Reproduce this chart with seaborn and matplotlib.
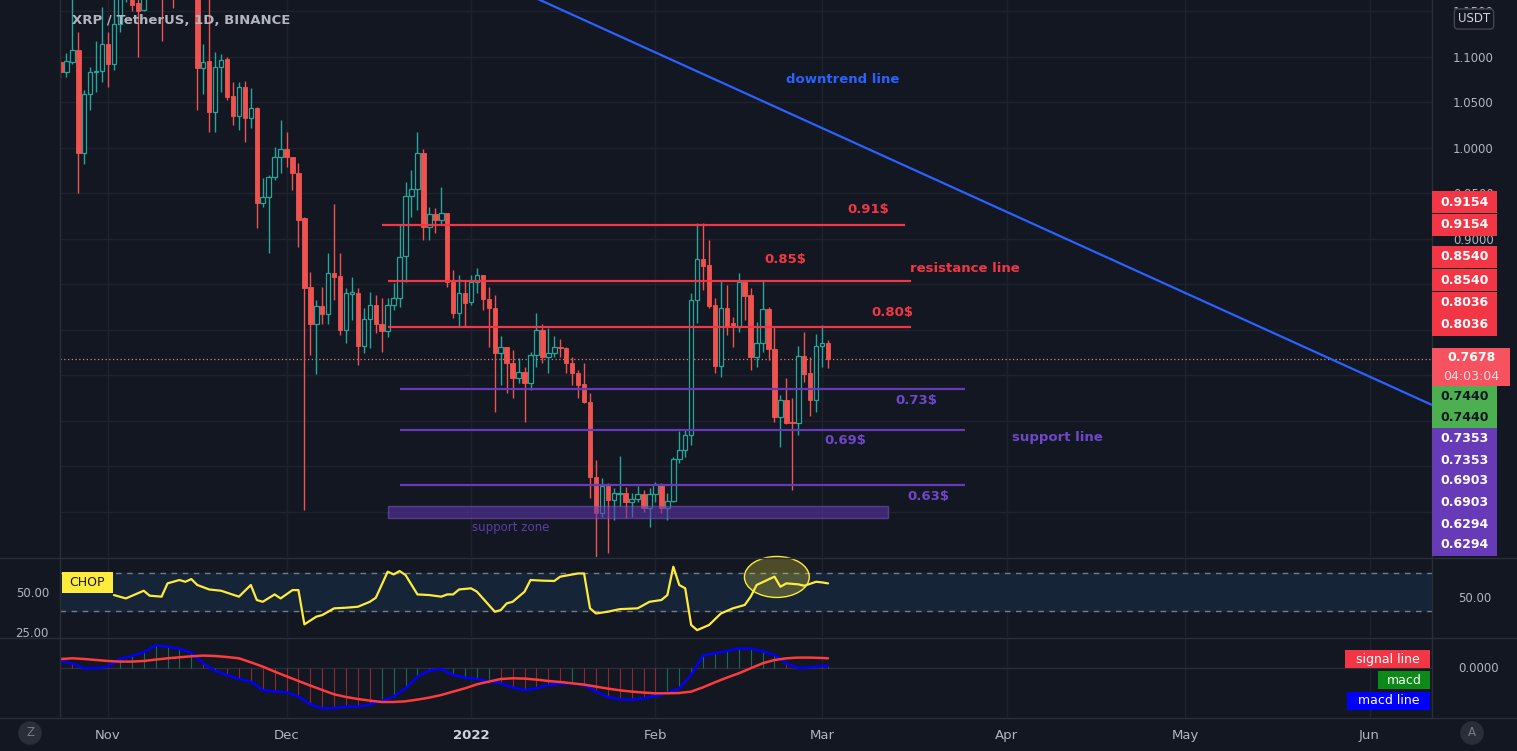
import matplotlib
matplotlib.use("Agg")
import numpy as np
import pandas as pd
import matplotlib.pyplot as plt
import matplotlib.dates as mdates
from matplotlib.patches import Rectangle, Ellipse
from matplotlib.lines import Line2D
import seaborn as sns

# ---------------- data ----------------
first_day = "2021-10-24"
opens = [1.094, 1.083, 1.095, 1.108, 0.995, 1.059, 1.083, 1.085, 1.114, 1.092,
         1.136, 1.174, 1.220, 1.159, 1.152, 1.195, 1.250, 1.270, 1.220, 1.200,
         1.180, 1.190, 1.210, 1.200, 1.088, 1.096, 1.040, 1.089, 1.098, 1.057,
         1.035, 1.067, 1.033, 1.044, 0.940, 0.946, 0.968, 0.990, 0.999, 0.990,
         0.973, 0.923, 0.847, 0.807, 0.826, 0.817, 0.863, 0.859, 0.800, 0.840,
         0.841, 0.782, 0.812, 0.827, 0.807, 0.799, 0.827, 0.835, 0.881, 0.947,
         0.955, 0.995, 0.913, 0.927, 0.921, 0.929, 0.853, 0.819, 0.841, 0.831,
         0.853, 0.860, 0.834, 0.824, 0.775, 0.781, 0.764, 0.747, 0.754, 0.742,
         0.773, 0.800, 0.770, 0.775, 0.781, 0.780, 0.764, 0.753, 0.741, 0.721,
         0.638, 0.599, 0.629, 0.613, 0.620, 0.621, 0.611, 0.614, 0.620, 0.604,
         0.620, 0.631, 0.604, 0.612, 0.658, 0.668, 0.685, 0.833, 0.878, 0.871,
         0.827, 0.760, 0.824, 0.808, 0.803, 0.853, 0.838, 0.770, 0.786, 0.823,
         0.779, 0.704, 0.723, 0.699, 0.698, 0.771, 0.753, 0.723, 0.782, 0.786]
highs = [1.097, 1.104, 1.165, 1.127, 1.064, 1.089, 1.117, 1.155, 1.127, 1.170,
         1.190, 1.240, 1.235, 1.185, 1.220, 1.270, 1.300, 1.350, 1.240, 1.220,
         1.210, 1.230, 1.230, 1.210, 1.114, 1.165, 1.105, 1.103, 1.100, 1.072,
         1.072, 1.074, 1.066, 1.045, 0.967, 0.970, 1.001, 1.031, 1.018, 0.990,
         0.984, 0.924, 0.864, 0.833, 0.847, 0.885, 0.938, 0.885, 0.846, 0.858,
         0.846, 0.824, 0.842, 0.838, 0.835, 0.835, 0.852, 0.915, 0.963, 0.976,
         1.018, 0.999, 0.935, 0.934, 0.957, 0.929, 0.866, 0.860, 0.855, 0.860,
         0.868, 0.860, 0.847, 0.838, 0.793, 0.781, 0.778, 0.769, 0.759, 0.776,
         0.819, 0.806, 0.802, 0.793, 0.790, 0.781, 0.770, 0.756, 0.764, 0.731,
         0.657, 0.637, 0.632, 0.626, 0.661, 0.627, 0.621, 0.628, 0.624, 0.626,
         0.633, 0.632, 0.621, 0.660, 0.689, 0.691, 0.841, 0.918, 0.918, 0.899,
         0.835, 0.855, 0.849, 0.814, 0.863, 0.855, 0.846, 0.809, 0.855, 0.825,
         0.803, 0.728, 0.747, 0.725, 0.782, 0.798, 0.770, 0.796, 0.805, 0.789]
lows = [1.077, 1.078, 1.092, 0.951, 0.982, 1.042, 1.062, 1.072, 1.067, 1.086,
        1.127, 1.160, 1.150, 1.100, 1.150, 1.180, 1.220, 1.117, 1.170, 1.154,
        1.170, 1.170, 1.180, 1.042, 1.059, 1.017, 1.018, 1.061, 1.053, 1.025,
        1.020, 1.007, 1.022, 0.912, 0.935, 0.885, 0.965, 0.973, 0.979, 0.954,
        0.891, 0.602, 0.773, 0.752, 0.806, 0.806, 0.833, 0.795, 0.786, 0.811,
        0.761, 0.775, 0.780, 0.797, 0.776, 0.792, 0.822, 0.825, 0.853, 0.924,
        0.932, 0.899, 0.899, 0.907, 0.916, 0.847, 0.813, 0.804, 0.804, 0.827,
        0.841, 0.822, 0.781, 0.710, 0.739, 0.731, 0.725, 0.742, 0.699, 0.734,
        0.759, 0.764, 0.753, 0.770, 0.770, 0.753, 0.739, 0.725, 0.720, 0.615,
        0.550, 0.594, 0.555, 0.591, 0.607, 0.593, 0.594, 0.611, 0.600, 0.583,
        0.611, 0.599, 0.591, 0.611, 0.654, 0.660, 0.674, 0.808, 0.844, 0.824,
        0.753, 0.748, 0.795, 0.781, 0.798, 0.811, 0.756, 0.759, 0.776, 0.767,
        0.699, 0.671, 0.697, 0.624, 0.685, 0.743, 0.705, 0.710, 0.759, 0.758]
closes = [1.084, 1.096, 1.108, 0.995, 1.059, 1.083, 1.085, 1.114, 1.092, 1.136,
          1.174, 1.220, 1.157, 1.150, 1.195, 1.250, 1.270, 1.220, 1.200, 1.180,
          1.190, 1.210, 1.200, 1.088, 1.095, 1.040, 1.089, 1.097, 1.056, 1.035,
          1.067, 1.033, 1.044, 0.940, 0.946, 0.968, 0.990, 0.999, 0.990, 0.973,
          0.921, 0.846, 0.807, 0.826, 0.817, 0.863, 0.858, 0.800, 0.841, 0.841,
          0.782, 0.812, 0.827, 0.807, 0.799, 0.827, 0.835, 0.880, 0.947, 0.955,
          0.995, 0.913, 0.927, 0.921, 0.929, 0.853, 0.819, 0.841, 0.830, 0.853,
          0.860, 0.834, 0.824, 0.775, 0.781, 0.764, 0.747, 0.754, 0.742, 0.773,
          0.800, 0.770, 0.775, 0.781, 0.780, 0.764, 0.753, 0.739, 0.721, 0.638,
          0.599, 0.629, 0.613, 0.621, 0.621, 0.611, 0.614, 0.620, 0.604, 0.620,
          0.631, 0.604, 0.612, 0.658, 0.668, 0.685, 0.833, 0.878, 0.870, 0.826,
          0.760, 0.824, 0.804, 0.803, 0.853, 0.837, 0.770, 0.786, 0.823, 0.779,
          0.704, 0.723, 0.698, 0.698, 0.771, 0.752, 0.723, 0.782, 0.786, 0.7678]

# CHOP indicator, days counted from 2021-11-01
chop_day = [1, 3, 6, 7, 9, 10, 12, 13, 14, 15, 17, 19, 22, 24, 25, 26, 28, 29, 31, 32,
            33, 35, 36, 38, 40, 42, 44, 45, 47, 48, 49, 50, 52, 54, 56, 57, 58, 59, 61, 62,
            65, 66, 67, 68, 70, 71, 73, 75, 76, 79, 80, 81, 82, 84, 86, 89, 91, 93, 94, 95,
            96, 97, 98, 99, 101, 103, 105, 107, 108, 109, 112, 113, 114, 116, 117, 119, 120, 121]
chop_val = [48.1, 46.0, 50.8, 47.7, 47.1, 55.4, 57.5, 56.4, 58.1, 54.4, 51.6, 50.8, 47.1, 54.4,
            45.0, 43.9, 48.5, 46.0, 51.2, 51.2, 29.8, 34.6, 35.6, 39.8, 40.2, 40.8, 43.9, 46.4,
            62.7, 61.0, 63.1, 60.6, 48.5, 48.1, 47.1, 48.5, 48.5, 51.6, 52.3, 50.2, 37.7, 38.7,
            42.9, 43.9, 50.2, 57.5, 57.1, 56.9, 59.6, 61.6, 61.6, 39.8, 36.6, 37.7, 39.3, 39.8,
            43.9, 45.0, 48.1, 65.8, 54.4, 52.3, 29.4, 26.2, 29.4, 36.6, 39.8, 41.9, 47.1, 54.4,
            59.6, 53.3, 55.4, 54.8, 53.9, 56.4, 56.0, 55.4]

# MACD (x 1000), read every second day from 2021-10-24, plus the last bar
macd_day = list(range(-8, 121, 2)) + [121]
macd_line = [6.7, 5.0, 0.0, 0.0, 1.7, 9.3, 12.3, 16.0, 22.7, 21.7, 19.3, 15.7, 5.0, -2.7,
             -6.7, -10.7, -13.3, -21.7, -23.3, -24.0, -28.3, -36.0, -40.3, -39.7, -38.3,
             -38.3, -36.3, -32.7, -28.3, -20.0, -8.3, -2.3, -0.7, -6.7, -9.3, -10.7, -12.7,
             -15.0, -19.3, -21.7, -20.0, -16.7, -15.3, -15.0, -16.7, -23.3, -28.7, -31.0,
             -31.3, -30.0, -27.7, -24.7, -20.0, -6.7, 12.7, 15.0, 17.3, 19.7, 19.7, 17.0,
             13.3, 5.0, 0.3, 1.0, 2.3, 2.7]
signal_line = [9.3, 10.0, 9.3, 8.3, 7.3, 6.7, 6.7, 7.3, 8.7, 10.0, 11.0, 12.0, 12.7, 12.3,
               11.3, 10.0, 6.0, 1.7, -3.3, -8.0, -12.7, -17.3, -21.7, -26.0, -28.7, -30.7,
               -32.3, -33.7, -33.7, -33.0, -31.3, -29.3, -26.7, -23.3, -20.0, -16.0, -13.3,
               -10.7, -10.0, -10.3, -11.3, -12.7, -13.7, -15.0, -16.3, -18.3, -20.3, -22.0,
               -23.3, -24.3, -25.0, -25.0, -24.7, -23.3, -19.0, -14.0, -9.3, -5.0, 0.0, 5.0,
               8.3, 10.0, 10.7, 10.7, 10.3, 10.0]

# drawings
last_price = 0.7678
res_levels = [0.9154, 0.8540, 0.8036]
res_start = ["2021-12-17", "2021-12-18", "2021-12-18"]
res_end = ["2022-03-15", "2022-03-16", "2022-03-16"]
sup_levels = [0.7353, 0.6903, 0.6294]
sup_start, sup_end = "2021-12-20", "2022-03-25"
zone_low, zone_high = 0.5934, 0.6066
zone_start, zone_end = "2021-12-18", "2022-03-12"
trend_dates = ["2022-01-01", "2022-06-15"]
trend_prices = [1.197, 0.7072]

level_text = ["0.91$", "0.85$", "0.80$", "0.73$", "0.69$", "0.63$"]
level_text_day = [127.7, 113.8, 131.8, 135.8, 123.9, 137.8]
level_text_price = [0.932, 0.877, 0.819, 0.723, 0.678, 0.617]

tag_values = ["0.9154", "0.9154", "0.8540", "0.8540", "0.8036", "0.8036", "0.7440", "0.7440",
              "0.7353", "0.7353", "0.6903", "0.6903", "0.6294", "0.6294"]
tag_kind = ["r", "r", "r", "r", "r", "r", "g", "g", "p", "p", "p", "p", "p", "p"]
month_names = ["Nov", "Dec", "2022", "Feb", "Mar", "Apr", "May", "Jun"]
month_starts = ["2021-11-01", "2021-12-01", "2022-01-01", "2022-02-01", "2022-03-01",
                "2022-04-01", "2022-05-01", "2022-06-01"]

# ---------------- style ----------------
BG = "#131722"
GRID = "#1e222d"
SEP = "#2a2e39"
TXT = "#b2b5be"
UP = "#26a69a"
DOWN = "#ef5350"
RED = "#f23645"
PURPLE = "#673ab7"
PURPLE_TXT = "#6f47c9"
BLUE = "#2962ff"
GREEN_TAG = "#4caf50"

sns.set_theme(style="dark", rc={"axes.facecolor": BG, "figure.facecolor": BG})
plt.rcParams["font.family"] = ["DejaVu Sans"]

W, H = 1517, 751
base = pd.Timestamp("2021-11-01")


def dnum(offset):
    return mdates.date2num(base + pd.Timedelta(days=offset))


def tnum(s):
    return mdates.date2num(pd.Timestamp(s))


dates = pd.date_range(first_day, periods=len(opens), freq="D")
candles = pd.DataFrame({"x": mdates.date2num(dates), "open": opens, "high": highs,
                        "low": lows, "close": closes})

fig = plt.figure(figsize=(W / 100, H / 100), dpi=100)


def pane(top, bottom):
    return fig.add_axes([60 / W, 1 - bottom / H, 1372 / W, (bottom - top) / H])


ax = pane(0, 557)
ax_chop = pane(558, 637)
ax_macd = pane(638, 718)

xmin, xmax = dnum(-8.07), dnum(222.5)
month_x = [tnum(s) for s in month_starts]
for a in (ax, ax_chop, ax_macd):
    a.set_facecolor(BG)
    a.set_xlim(xmin, xmax)
    for s in a.spines.values():
        s.set_visible(False)
    a.grid(False)
    a.set_xticks(month_x)
    a.tick_params(length=0)
    for m in month_x:
        a.axvline(m, color=GRID, lw=1, zorder=0)

# ---- main price pane ----
ax.set_ylim(0.5505, 1.1626)
yt = [0.55, 0.60, 0.65, 0.70, 0.75, 0.80, 0.85, 0.90, 0.95, 1.00, 1.05, 1.10, 1.15]
for v in yt:
    ax.axhline(v, color=GRID, lw=1, zorder=0)
# the lower tick labels sit under the price tags, only the upper ones show
shown = [v for v in yt if v >= 0.90]
ax.yaxis.tick_right()
ax.set_yticks(shown)
ax.set_yticklabels([f"{v:.4f}" for v in shown], color=TXT, fontsize=8.5)
ax.tick_params(axis="y", pad=15)
ax.set_xticklabels([])

up = candles["close"] >= candles["open"]
body_low = candles[["open", "close"]].min(axis=1)
body_h = (candles["close"] - candles["open"]).abs().clip(lower=0.0012)
ax.vlines(candles["x"][up], candles["low"][up], candles["high"][up], color=UP, lw=1, zorder=2)
ax.vlines(candles["x"][~up], candles["low"][~up], candles["high"][~up], color=DOWN, lw=1, zorder=2)
ax.bar(candles["x"][up], body_h[up], bottom=body_low[up], width=0.76, facecolor=BG,
       edgecolor=UP, linewidth=0.9, zorder=3)
ax.bar(candles["x"][~up], body_h[~up], bottom=body_low[~up], width=0.76, facecolor=DOWN,
       edgecolor=DOWN, linewidth=0.6, zorder=3)

ax.axhline(last_price, color="#d9837f", lw=0.9, ls=(0, (1, 2)), zorder=1)

for lv, s0, s1 in zip(res_levels, res_start, res_end):
    ax.hlines(lv, tnum(s0), tnum(s1), color=RED, lw=1.6, zorder=4)
for lv in sup_levels:
    ax.hlines(lv, tnum(sup_start), tnum(sup_end), color=PURPLE, lw=1.6, zorder=4)
ax.add_patch(Rectangle((tnum(zone_start), zone_low), tnum(zone_end) - tnum(zone_start),
                       zone_high - zone_low, facecolor="#5e35b1", alpha=0.55,
                       edgecolor="#7e57c2", lw=1, zorder=4))

sns.lineplot(x=[tnum(d) for d in trend_dates], y=trend_prices, ax=ax, color=BLUE, lw=1.6,
             zorder=4, legend=False)

for i, (t, dd, p) in enumerate(zip(level_text, level_text_day, level_text_price)):
    ax.text(dnum(dd), p, t, color=RED if i < 3 else PURPLE_TXT, fontsize=9.5,
            fontweight="bold", ha="center", va="center", zorder=5)
ax.text(dnum(123.4), 1.075, "downtrend line", color=BLUE, fontsize=9.5, fontweight="bold",
        ha="center", va="center")
ax.text(dnum(144.0), 0.867, "resistance line", color=RED, fontsize=9.5, fontweight="bold",
        ha="center", va="center")
ax.text(dnum(159.5), 0.682, "support line", color=PURPLE_TXT, fontsize=9.5, fontweight="bold",
        ha="center", va="center")
ax.text(dnum(67.7), 0.583, "support zone", color="#5b3fa8", fontsize=8.5,
        ha="center", va="center")

# ---- CHOP pane ----
ax_chop.set_ylim(21.9, 71.25)
ax_chop.axhspan(38.2, 61.8, color="#152437", zorder=0)
for lv in (61.8, 38.2):
    ax_chop.axhline(lv, color="#787b86", lw=1, ls=(0, (4, 4)), zorder=1)
sns.lineplot(x=[dnum(d) for d in chop_day], y=chop_val, ax=ax_chop, color="#ffeb3b",
             lw=1.6, legend=False, zorder=3)
ax_chop.add_patch(Ellipse((dnum(112.4), 59.4), 10.9, 25.6, facecolor=(1, 0.92, 0.23, 0.25),
                          edgecolor="#ffeb3b", lw=1, clip_on=False, zorder=5))
ax_chop.set_yticks([25, 50])
ax_chop.set_yticklabels(["25.00", "50.00"], color=TXT, fontsize=8.5)
ax_chop.tick_params(axis="y", pad=8)
ax_chop.set_xticklabels([])

# ---- MACD pane ----
ax_macd.set_ylim(-49.7, 30.3)
ax_macd.axhline(0, color=SEP, lw=1, zorder=0)
mx = [dnum(d) for d in macd_day]
hist_col = ["#1d6b4f" if m >= s else "#8c2a34" for m, s in zip(macd_line, signal_line)]
ax_macd.vlines(mx, 0, macd_line, colors=hist_col, lw=0.8, zorder=1)
sns.lineplot(x=mx, y=macd_line, ax=ax_macd, color="#0000ff", lw=1.8, legend=False, zorder=3)
sns.lineplot(x=mx, y=signal_line, ax=ax_macd, color="#ff3b3b", lw=1.8, legend=False, zorder=4)
ax_macd.set_yticks([])
ax_macd.set_xticklabels(month_names, color=TXT, fontsize=9.5)
ax_macd.tick_params(axis="x", pad=8)
ax_macd.get_xticklabels()[2].set_fontweight("bold")
ax_macd.get_xticklabels()[2].set_color("#d1d4dc")


# ---------------- frame, tags, buttons ----------------
def fx(x):
    return x / W


def fy(y):
    return 1 - y / H


for y in (557.5, 637.5, 718):
    fig.add_artist(Line2D([0, 1], [fy(y)] * 2, color=SEP, lw=1))
for x in (60, 1432):
    fig.add_artist(Line2D([fx(x)] * 2, [fy(0), fy(718)], color=SEP, lw=1))


def tag(x0, x1, yc, h, text, fc, tc, weight="bold", size=9):
    fig.add_artist(Rectangle((fx(x0), fy(yc + h / 2)), (x1 - x0) / W, h / H,
                             facecolor=fc, edgecolor="none", zorder=4))
    fig.text(fx((x0 + x1) / 2), fy(yc), text, color=tc, fontsize=size, fontweight=weight,
             ha="center", va="center", zorder=5)


tag_y = [202, 225, 257, 280, 303, 325, 396, 417, 439, 460, 481, 503, 524, 545]
tag_colors = {"r": (RED, "white"), "g": (GREEN_TAG, "#131722"), "p": (PURPLE, "white")}
for v, k, y in zip(tag_values, tag_kind, tag_y):
    fc, tc = tag_colors[k]
    tag(1432, 1497, y, 21.5, v, fc, tc)

fig.add_artist(Rectangle((fx(1432), fy(386)), 78 / W, 38 / H, facecolor="#f7525f",
                         edgecolor="none", zorder=4))
fig.text(fx(1471), fy(358), f"{last_price:.4f}", color="white", fontsize=9,
         fontweight="bold", ha="center", va="center", zorder=5)
fig.text(fx(1471), fy(376), "04:03:04", color="#fde0e2", fontsize=9,
         ha="center", va="center", zorder=5)

fig.text(fx(1474), fy(19), "USDT", color="#d1d4dc", fontsize=8.5, ha="center", va="center",
         zorder=6, bbox=dict(boxstyle="round,pad=0.3", fc=BG, ec="#434651", lw=1))

fig.text(fx(72), fy(20), "XRP / TetherUS, 1D, BINANCE", color="#b2b5be", fontsize=9.5,
         fontweight="bold", ha="left", va="center")

fig.text(fx(1458), fy(598), "50.00", color=TXT, fontsize=8.5, ha="left", va="center")
fig.text(fx(1458), fy(668), "0.0000", color=TXT, fontsize=8.5, ha="left", va="center")

tag(62, 113, 582.5, 21, "CHOP", "#ffeb3b", "#131722", weight="normal", size=9)

tag(1345, 1430, 659, 18, "signal line", RED, "white", weight="normal", size=9)
tag(1378, 1430, 680, 18, "macd", "#0b8a17", "white", weight="normal", size=9)
tag(1347, 1430, 701, 18, "macd line", "#0000ff", "white", weight="normal", size=9)

for x, t in ((30, "Z"), (1472, "A")):
    fig.text(fx(x), fy(733), t, color="#787b86", fontsize=8.5, ha="center", va="center",
             bbox=dict(boxstyle="circle,pad=0.45", fc="#2a2e39", ec="none"))

fig.savefig("out.png", dpi=100, facecolor=BG)
